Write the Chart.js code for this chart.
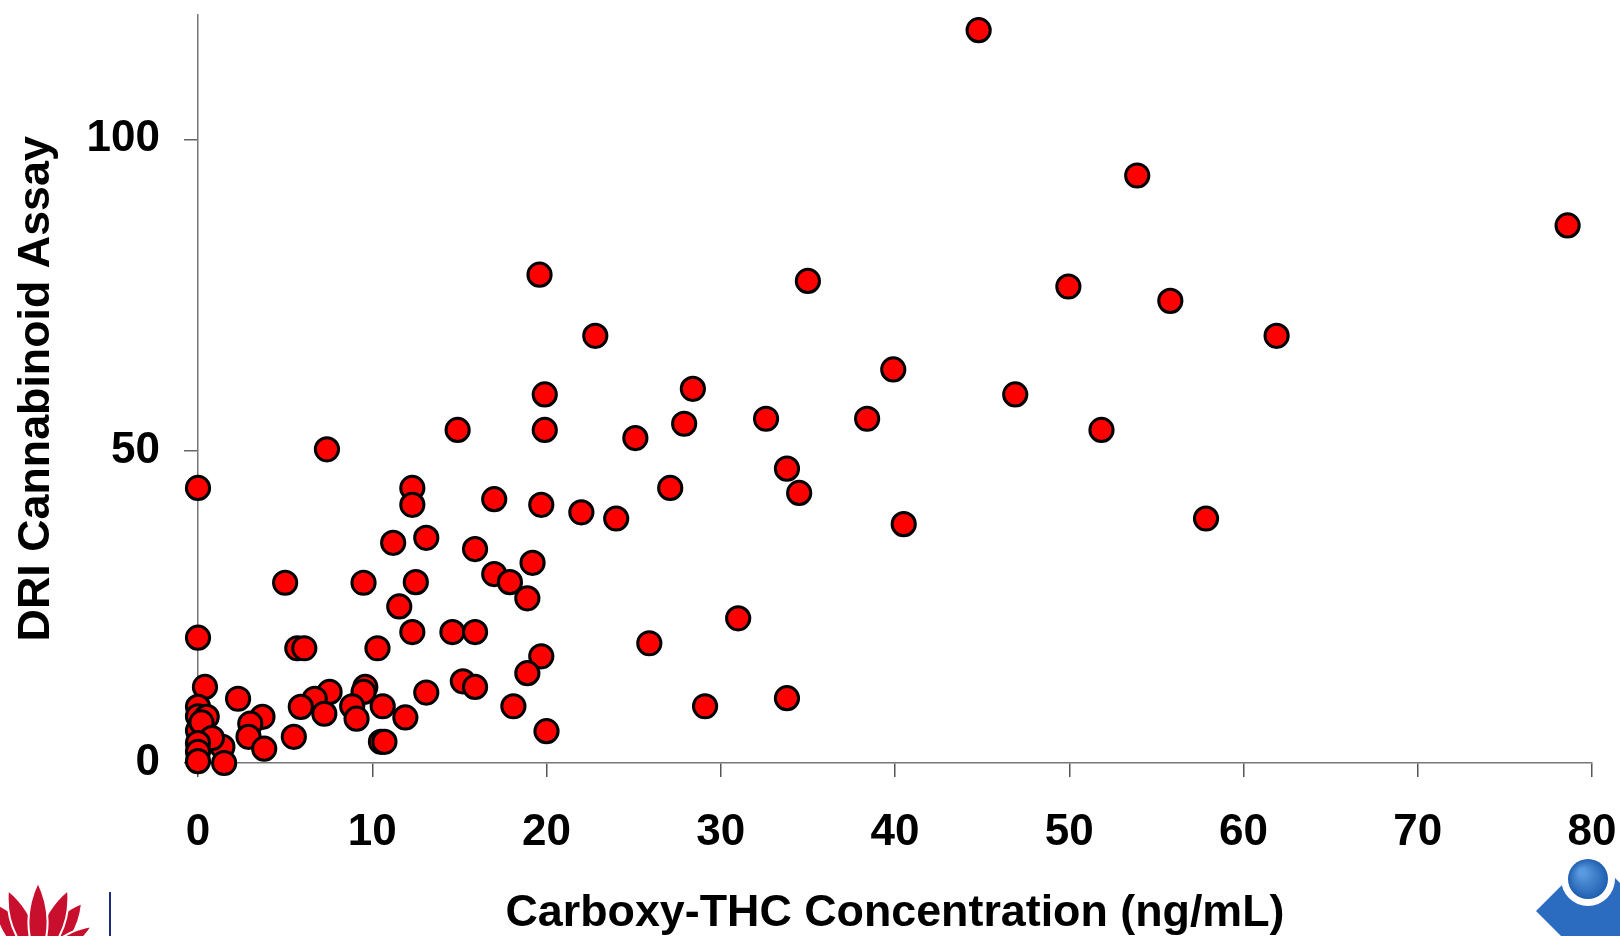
<!DOCTYPE html>
<html>
<head>
<meta charset="utf-8">
<script src="https://cdn.jsdelivr.net/npm/chart.js@4.4.1/dist/chart.umd.min.js"></script>
<style>
  html, body { margin: 0; padding: 0; background: #ffffff; }
  #wrap { position: relative; width: 1620px; height: 936px; overflow: hidden; }
  canvas { display: block; }
</style>
</head>
<body>
<div id="wrap"><canvas id="c" width="1620" height="936"></canvas></div>
<script>
// ---- Data ----
const xTitle = 'Carboxy-THC Concentration (ng/mL)';
const yTitle = 'DRI Cannabinoid Assay';
const xTicks = [0, 10, 20, 30, 40, 50, 60, 70, 80];
const yTicks = [0, 50, 100];

const carboxyTHC = [
  44.8, 53.9, 78.6, 19.6, 35.0, 49.95, 55.8, 22.8, 61.9, 39.9,
  28.4, 19.9, 46.9, 32.6, 38.4, 27.9, 14.9, 19.9, 51.85, 25.1,
  7.4, 33.8, 0, 12.3, 27.1, 34.5, 17.0, 12.3, 19.7, 22.0,
  24.0, 57.85, 40.5, 13.1, 11.2, 15.9, 19.2, 17.0, 5.0, 9.5,
  12.5, 17.9, 18.9, 11.55, 31.0, 14.6, 15.9, 12.3, 0, 25.9,
  5.7, 6.1, 10.3, 19.7, 18.9, 15.2, 15.9, 0.4, 9.6, 9.5,
  13.1, 7.55, 6.7, 2.3, 33.8, 18.1, 29.1, 8.85, 5.9, 10.6,
  7.25, 9.1, 3.7, 11.9, 3.0, 20.0, 5.5, 2.9, 10.5, 10.7,
  3.8, 1.4, 1.5, 0, 0, 0.5, 0, 0.2, 0.8, 0, 0, 0
];
const driAssay = [
  117.5, 94.2, 86.2, 78.3, 77.3, 76.4, 74.1, 68.5, 68.5, 63.1,
  60.0, 59.1, 59.1, 55.2, 55.2, 54.4, 53.4, 53.4, 53.4, 52.1,
  50.3, 47.2, 44.1, 44.1, 44.1, 43.3, 42.3, 41.4, 41.4, 40.2,
  39.2, 39.2, 38.3, 36.1, 35.3, 34.3, 32.1, 30.3, 28.9, 28.9,
  29.0, 29.0, 26.4, 25.1, 23.2, 21.0, 21.0, 21.0, 20.1, 19.2,
  18.4, 18.4, 18.4, 17.1, 14.4, 13.1, 12.2, 12.2, 12.2, 11.4,
  11.3, 11.4, 10.3, 10.3, 10.4, 9.1, 9.1, 9.1, 9.0, 9.1,
  7.9, 7.1, 7.4, 7.3, 6.3, 5.1, 4.2, 4.2, 3.4, 3.4,
  2.3, 2.6, 0.0, 9.0, 7.5, 7.4, 5.2, 6.5, 4.0, 3.2, 1.8, 0.3
];

// ---- Styles ----
const FONT = "'Liberation Sans', Arial, Helvetica, sans-serif";
const points = carboxyTHC.map((x, i) => ({ x: x, y: driAssay[i] }));

function zeroPadding(s) {
  s.paddingLeft = 0; s.paddingRight = 0; s.paddingTop = 0; s.paddingBottom = 0;
}

const logos = {
  id: 'logos',
  afterDraw(chart) {
    const ctx = chart.ctx;
    ctx.save();
    // lotus (bottom-left)
    const base = { x: 38, y: 962 };
    const petals = [
      [-6, 903, 0.30], [82, 903, 0.30],
      [8, 890, 0.26], [68, 890, 0.26],
      [38, 882, 0.24],
      [92, 926, 0.22]
    ];
    petals.forEach(p => {
      const tx = p[0], ty = p[1];
      const dx = tx - base.x, dy = ty - base.y;
      const len = Math.hypot(dx, dy);
      const nx = -dy / len, ny = dx / len;
      const w = len * p[2];
      const mx = (tx + base.x) / 2, my = (ty + base.y) / 2;
      ctx.beginPath();
      ctx.moveTo(base.x, base.y);
      ctx.quadraticCurveTo(mx + nx * w, my + ny * w, tx, ty);
      ctx.quadraticCurveTo(mx - nx * w, my - ny * w, base.x, base.y);
      ctx.closePath();
      ctx.fillStyle = '#c8102e';
      ctx.fill();
      ctx.lineWidth = 2;
      ctx.strokeStyle = '#ffffff';
      ctx.stroke();
    });
    // divider line
    ctx.beginPath();
    ctx.moveTo(110, 892);
    ctx.lineTo(110, 936);
    ctx.lineWidth = 2;
    ctx.strokeStyle = '#1c2a80';
    ctx.stroke();
    // blue logo (bottom-right)
    ctx.beginPath();
    ctx.moveTo(1536, 911);
    ctx.lineTo(1592, 855);
    ctx.lineTo(1648, 911);
    ctx.lineTo(1592, 967);
    ctx.closePath();
    ctx.fillStyle = '#2b6cc0';
    ctx.fill();
    ctx.beginPath();
    ctx.arc(1588, 879, 27, 0, Math.PI * 2);
    ctx.fillStyle = '#ffffff';
    ctx.fill();
    ctx.beginPath();
    ctx.arc(1588, 879, 20, 0, Math.PI * 2);
    const g = ctx.createRadialGradient(1582, 872, 3, 1588, 879, 20);
    g.addColorStop(0, '#5a9ae0');
    g.addColorStop(1, '#1f5fb0');
    ctx.fillStyle = g;
    ctx.fill();
    ctx.restore();
  }
};

new Chart(document.getElementById('c'), {
  type: 'scatter',
  data: {
    datasets: [{
      data: points,
      backgroundColor: '#ff0000',
      borderColor: '#000000',
      borderWidth: 3,
      pointRadius: 11.6,
      pointHoverRadius: 11.6,
      clip: false
    }]
  },
  options: {
    responsive: false,
    animation: false,
    events: [],
    layout: { padding: { top: 10, right: 28, bottom: 0, left: 0 } },
    plugins: { legend: { display: false }, tooltip: { enabled: false } },
    scales: {
      x: {
        type: 'linear',
        min: 0,
        max: 80,
        afterBuildTicks: s => { s.ticks = xTicks.map(v => ({ value: v })); },
        afterFit: s => { s.height = 173; zeroPadding(s); },
        grid: { drawOnChartArea: false, drawTicks: true, tickLength: 14, color: '#555555', lineWidth: 1.5 },
        border: { display: true, color: '#777777', width: 1.5 },
        ticks: {
          padding: 29, color: '#000000', maxRotation: 0, autoSkip: false,
          font: { family: FONT, size: 44, weight: 'bold' }
        },
        title: {
          display: true, text: xTitle, color: '#000000',
          padding: { top: 0, bottom: 0 },
          font: { family: FONT, size: 44.8, weight: 'bold', lineHeight: 1.0 }
        }
      },
      y: {
        type: 'linear',
        min: 0,
        max: 120,
        afterBuildTicks: s => { s.ticks = yTicks.map(v => ({ value: v })); },
        afterFit: s => { s.width = 198; zeroPadding(s); },
        grid: { drawOnChartArea: false, drawTicks: true, tickLength: 14, color: '#666666', lineWidth: 1.5 },
        border: { display: true, color: '#777777', width: 1.5 },
        ticks: {
          padding: 24, color: '#000000', autoSkip: false,
          font: { family: FONT, size: 44, weight: 'bold' }
        },
        title: {
          display: true, text: yTitle, color: '#000000',
          padding: { top: 10, bottom: 0 },
          font: { family: FONT, size: 44.8, weight: 'bold', lineHeight: 1.2 }
        }
      }
    }
  },
  plugins: [logos]
});
</script>
</body>
</html>
